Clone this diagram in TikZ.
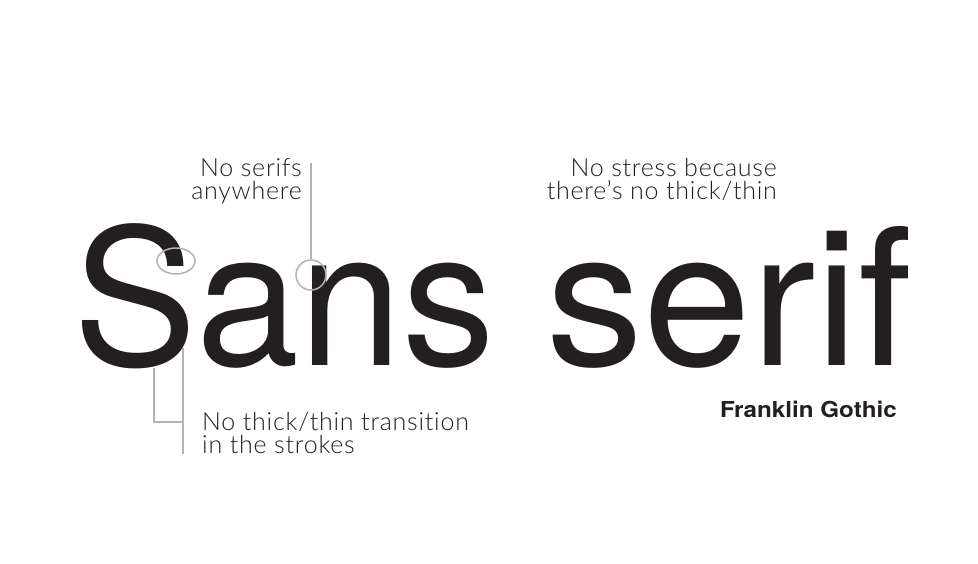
\documentclass[tikz,border=0pt]{standalone}
\usepackage{fontspec}
\setmainfont{TeX Gyre Heros}
\newfontfamily\lblfont[UprightFont={* Light},LetterSpace=3,Ligatures=NoCommon]{Lato}
\newfontfamily\bigfont{TeX Gyre Heros}
\definecolor{ink}{HTML}{231F20}
\definecolor{guide}{HTML}{B3B3B3}
\tikzset{
  lbl/.style={inner sep=0pt, text=ink, font=\lblfont\fontsize{25}{23.5}\selectfont},
  bigword/.style={inner sep=0pt, text=ink, anchor=base west, text depth=0pt},
  guideline/.style={draw=guide, line width=1.5pt},
}
\begin{document}
\begin{tikzpicture}[x=1pt,y=-1pt]
\useasboundingbox (0,0) rectangle (978,564);
\node[bigword] (sans) at (73,366) {\scalebox{0.975}[1]{\bigfont\fontsize{190}{190}\selectfont Sans}};
\node[bigword] (serif) at (546.5,366) {\scalebox{1.02}[1]{\bigfont\fontsize{190}{190}\selectfont serif}};
\node[lbl, align=right, anchor=north east] (noserifs) at (302,158) {No serifs\\anywhere};
\node[lbl, align=right, anchor=north east] (nostress) at (777,158) {No stress because\\there’s no thick/thin};
\node[lbl, align=left, anchor=north west] (nothick) at (202,412) {No thick/thin transition\\in the strokes};
\node[inner sep=0pt, anchor=base east, text=ink, font=\bfseries\fontsize{22}{22}\selectfont] (franklin) at (897,417) {\scalebox{1.1}[1]{Franklin Gothic}};
% guides
\draw[guideline] (176,261) ellipse [x radius=19, y radius=13];
\node[guideline, circle, minimum size=30pt, inner sep=0pt] (ncirc) at (311,275) {};
\coordinate (ntop) at (311,163);
\draw[guideline] (ntop) -- (ncirc.north);
\coordinate (b1) at (154,368);
\coordinate (b2) at (154,422);
\coordinate (b3) at (183,422);
\coordinate (b4) at (183,348);
\coordinate (b5) at (183,454);
\draw[guideline] (b1) -- (b2) -- (b3);
\draw[guideline] (b4) -- (b5);
\end{tikzpicture}
\end{document}
